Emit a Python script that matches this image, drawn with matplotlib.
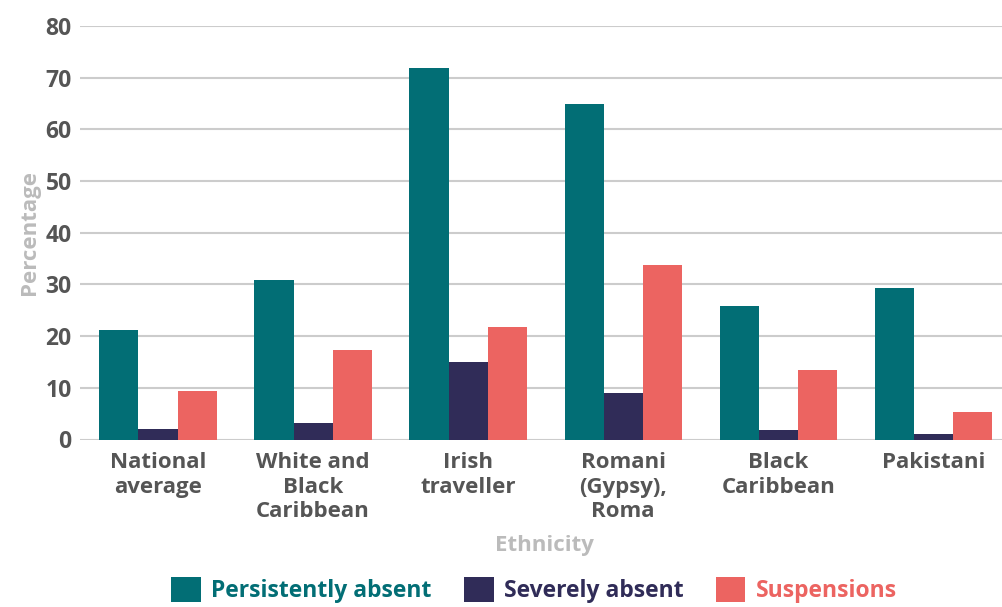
import matplotlib
matplotlib.use("Agg")
import matplotlib.pyplot as plt
import numpy as np
from matplotlib.patches import Patch

categories = ["National\naverage", "White and\nBlack\nCaribbean", "Irish\ntraveller",
              "Romani\n(Gypsy),\nRoma", "Black\nCaribbean", "Pakistani"]
series_names = ["Persistently absent", "Severely absent", "Suspensions"]
persistently_absent = [21.2, 30.9, 71.9, 64.9, 25.8, 29.3]
severely_absent = [2.0, 3.2, 15.0, 8.9, 1.8, 1.1]
suspensions = [9.4, 17.3, 21.8, 33.8, 13.5, 5.4]
yticks = [0, 10, 20, 30, 40, 50, 60, 70, 80]

colors = ["#026e75", "#302c58", "#ec6461"]
font = "Open Sans"
plt.rcParams['font.family'] = [font, 'DejaVu Sans']

fig = plt.figure(figsize=(10.03, 6.07), dpi=100)
ax = fig.add_axes([80/1003, 167.5/607, 923/1003, 413.5/607])

x = np.arange(len(categories))
w = 0.252
for i, (vals, c) in enumerate(zip([persistently_absent, severely_absent, suspensions], colors)):
    ax.bar(x + (i - 1) * w, vals, width=w, color=c, zorder=3)

ax.set_ylim(0, 80)
ax.set_xlim(-0.503, 5.45)
ax.set_yticks(yticks)
ax.set_yticklabels([str(t) for t in yticks], fontsize=16.5, fontweight='bold', color="#555555")
ax.set_xticks(x)
ax.set_xticklabels(categories, fontsize=16, fontweight='bold', color="#555555", linespacing=1.22)
ax.tick_params(axis='both', length=0)
ax.tick_params(axis='y', pad=6)
ax.tick_params(axis='x', pad=9)
ax.grid(axis='y', color="#cccccc", linewidth=1.5, zorder=0)
for s in ax.spines.values():
    s.set_visible(False)

ax.set_ylabel("Percentage", fontsize=16, fontweight='bold', color="#bbbbbb", labelpad=4)
fig.text(544/1003, 1 - 546/607, "Ethnicity", fontsize=16, fontweight='bold', color="#bbbbbb",
         ha='center', va='center')

handles = [Patch(facecolor=c, edgecolor='none') for c in colors]
leg = fig.legend(handles, series_names, loc='center', bbox_to_anchor=(534/1003, 1 - 590/607),
                 ncol=3, frameon=False, fontsize=16.5, handlelength=1.3, handleheight=1.3,
                 handletextpad=0.45, columnspacing=1.4, borderpad=0.1)
for t, c in zip(leg.get_texts(), colors):
    t.set_color(c)
    t.set_fontweight('bold')

fig.savefig("out.png", dpi=100)
